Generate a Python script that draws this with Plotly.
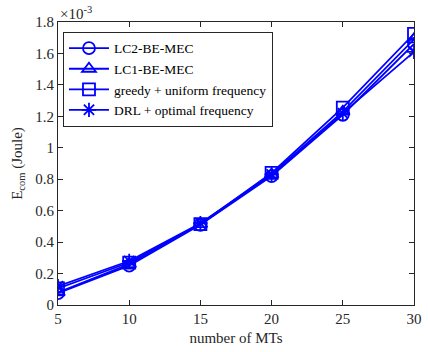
import plotly.graph_objects as go

# number of mobile terminals
num_mts = [5, 10, 15, 20, 25, 30]

# communication energy, in units of 1e-3 Joule
lc2_be_mec = [0.075, 0.25, 0.51, 0.82, 1.21, 1.66]
lc1_be_mec = [0.08, 0.26, 0.515, 0.83, 1.23, 1.69]
greedy_uniform = [0.105, 0.27, 0.515, 0.84, 1.255, 1.725]
drl_optimal = [0.12, 0.28, 0.52, 0.83, 1.22, 1.61]

series = [
    ("LC2-BE-MEC", lc2_be_mec, "circle-open"),
    ("LC1-BE-MEC", lc1_be_mec, "triangle-up-open"),
    ("greedy + uniform frequency", greedy_uniform, "square-open"),
    ("DRL + optimal frequency", drl_optimal, "asterisk-open"),
]

y_ticks = [0, 0.2, 0.4, 0.6, 0.8, 1, 1.2, 1.4, 1.6, 1.8]
y_tick_text = ["0", "0.2", "0.4", "0.6", "0.8", "1", "1.2", "1.4", "1.6", "1.8"]

FONT = "Liberation Serif"
AXIS_COLOR = "#262626"

fig = go.Figure()
for name, vals, sym in series:
    fig.add_trace(go.Scatter(
        x=num_mts, y=vals, name=name, mode="lines+markers",
        line=dict(color="#0000ff", width=1.8),
        marker=dict(symbol=sym, size=12, color="#0000ff",
                    line=dict(width=1.8, color="#0000ff")),
    ))

axis_common = dict(
    showline=True, linecolor=AXIS_COLOR, linewidth=1, mirror="ticks",
    ticks="inside", ticklen=5, tickcolor=AXIS_COLOR, showgrid=False,
    zeroline=False, ticklabeloverflow="allow",
    tickfont=dict(family=FONT, size=15, color=AXIS_COLOR),
)

fig.update_layout(
    width=428, height=352,
    margin=dict(l=58, r=6, t=22, b=47),
    paper_bgcolor="white", plot_bgcolor="white",
    font=dict(family=FONT, size=13, color=AXIS_COLOR),
    xaxis=dict(range=[5, 30], tickvals=num_mts,
               title=dict(text="number of MTs", standoff=6,
                          font=dict(family=FONT, size=15, color=AXIS_COLOR)),
               **axis_common),
    yaxis=dict(range=[0, 1.8], tickvals=y_ticks, ticktext=y_tick_text,
               title=dict(text="E<sub>com</sub> (Joule)", standoff=9,
                          font=dict(family=FONT, size=15, color=AXIS_COLOR)),
               **axis_common),
    legend=dict(
        x=0.014, y=0.965, xanchor="left", yanchor="top",
        bgcolor="white", bordercolor=AXIS_COLOR, borderwidth=1,
        font=dict(family=FONT, size=13.5, color="black"),
        tracegroupgap=0, itemwidth=40,
    ),
    showlegend=True,
)

fig.add_annotation(
    x=0, y=1, xref="paper", yref="paper", xanchor="left", yanchor="bottom",
    text="×10<sup>-3</sup>", showarrow=False, yshift=-2,
    font=dict(family=FONT, size=15, color=AXIS_COLOR),
)

fig.write_html("out.html")
